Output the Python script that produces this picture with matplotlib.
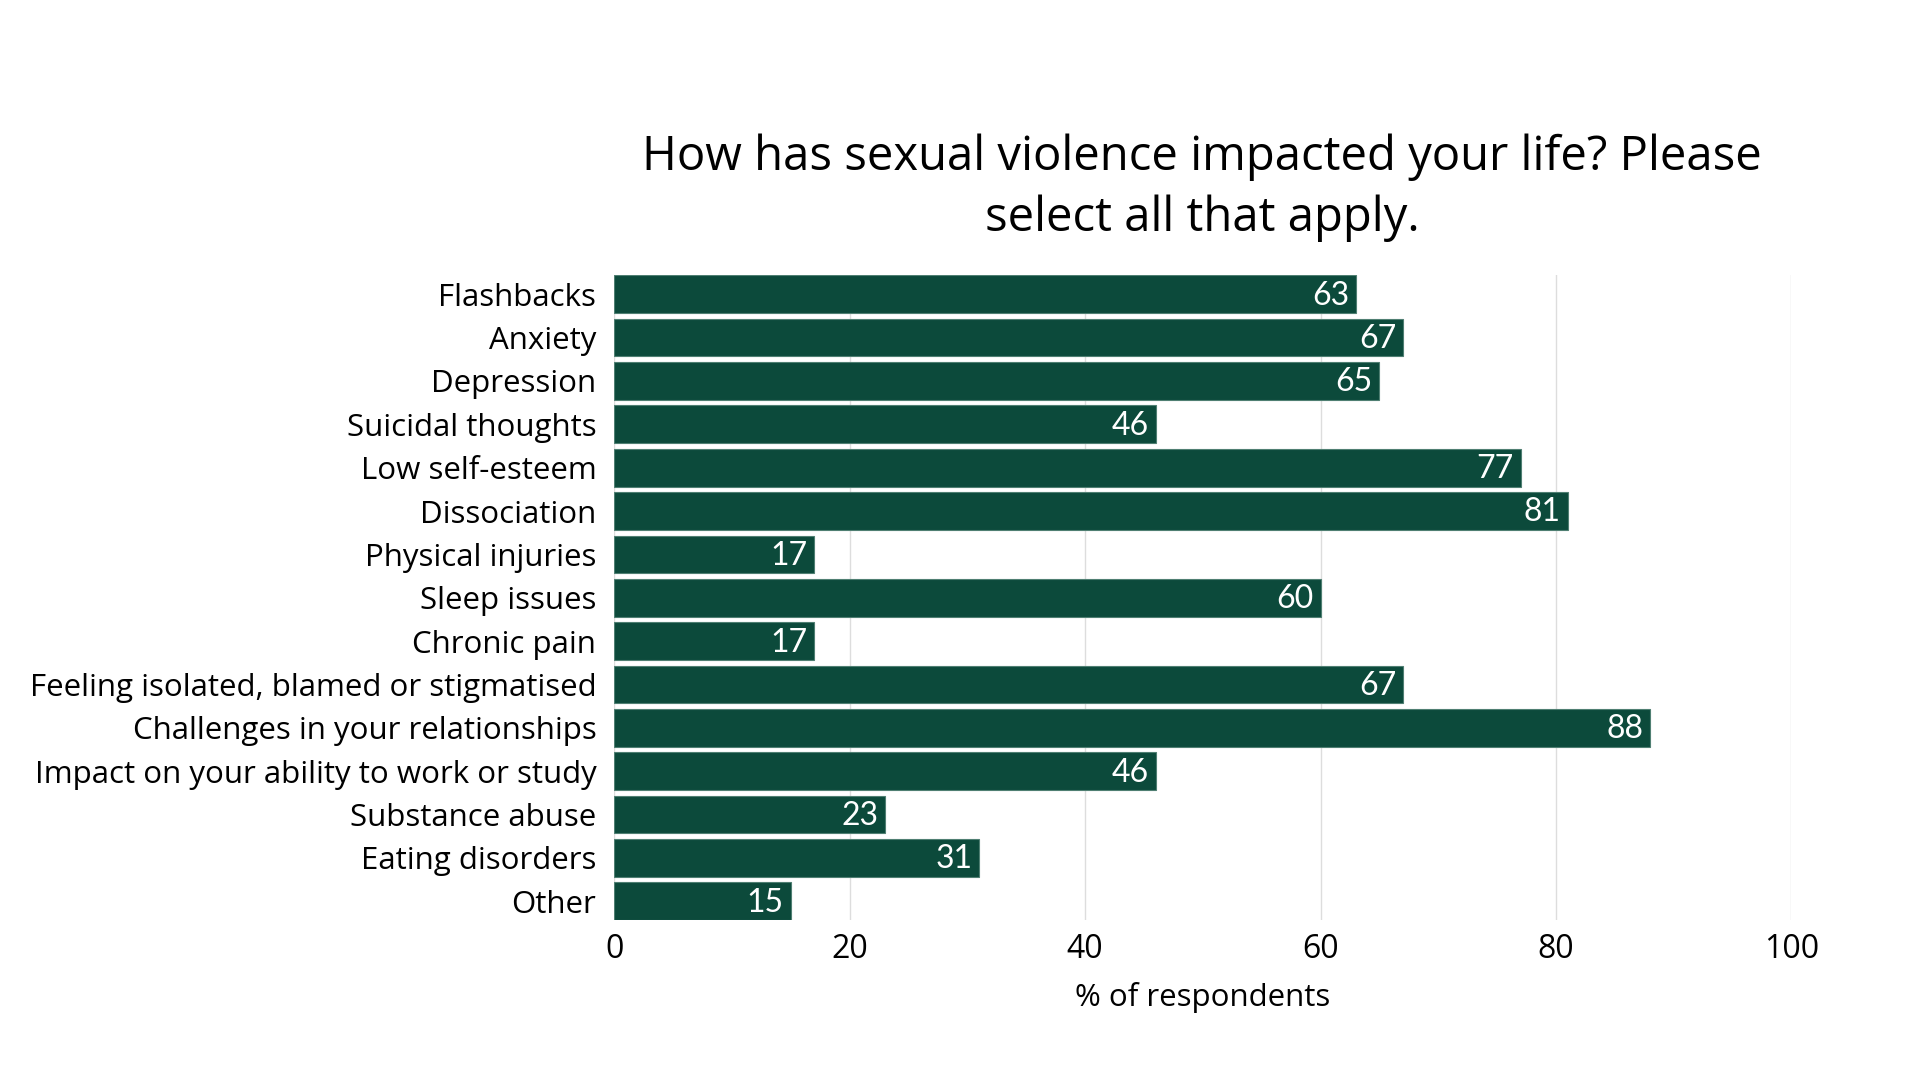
import matplotlib.pyplot as plt
import numpy as np

categories = [
    'Flashbacks', 'Anxiety', 'Depression', 'Suicidal thoughts', 'Low self-esteem',
    'Dissociation', 'Physical injuries', 'Sleep issues', 'Chronic pain',
    'Feeling isolated, blamed or stigmatised', 'Challenges in your relationships',
    'Impact on your ability to work or study', 'Substance abuse', 'Eating disorders',
    'Other',
]
values = [63, 67, 65, 46, 77, 81, 17, 60, 17, 67, 88, 46, 23, 31, 15]
xticks = [0, 20, 40, 60, 80, 100]

title = 'How has sexual violence impacted your life? Please\nselect all that apply.'
xlabel = '% of respondents'

bar_color = '#0c4a3b'
font = ['Open Sans', 'DejaVu Sans']
num_font = ['Lato', 'DejaVu Sans']

fig = plt.figure(figsize=(19.2, 10.8), dpi=100)
ax = fig.add_axes([0.320, 0.148, 0.613, 0.597])

h = 0.87
y = np.arange(len(categories))
ax.barh(y, values, height=h, color=bar_color, edgecolor='#4f7f72', linewidth=0.8, zorder=3)

# value labels inside the bar end
for yi, v in zip(y, values):
    ax.annotate(str(v), xy=(v, yi), xytext=(-5, -1), textcoords='offset points',
                ha='right', va='center', color='white', fontsize=23, family=num_font, zorder=4)

ax.set_ylim(len(categories) - 1 + h / 2, -h / 2)
ax.set_xlim(0, 100)
ax.set_xticks(xticks)
ax.set_yticks(y)
ax.set_yticklabels(categories, fontsize=22.5, family=font)
ax.tick_params(axis='y', length=0, pad=13)
ax.tick_params(axis='x', length=0, pad=9, labelsize=23)
for lbl in ax.get_xticklabels():
    lbl.set_family(font)

ax.grid(axis='x', color='#dddddd', linewidth=1, zorder=0)
for s in ax.spines.values():
    s.set_visible(False)

ax.set_xlabel(xlabel, fontsize=22.5, family=font, labelpad=12)
fig.text(0.626, 0.826, title, ha='center', va='center', fontsize=34, family=font, linespacing=1.38)

fig.savefig('out.png', dpi=100, facecolor='white')
